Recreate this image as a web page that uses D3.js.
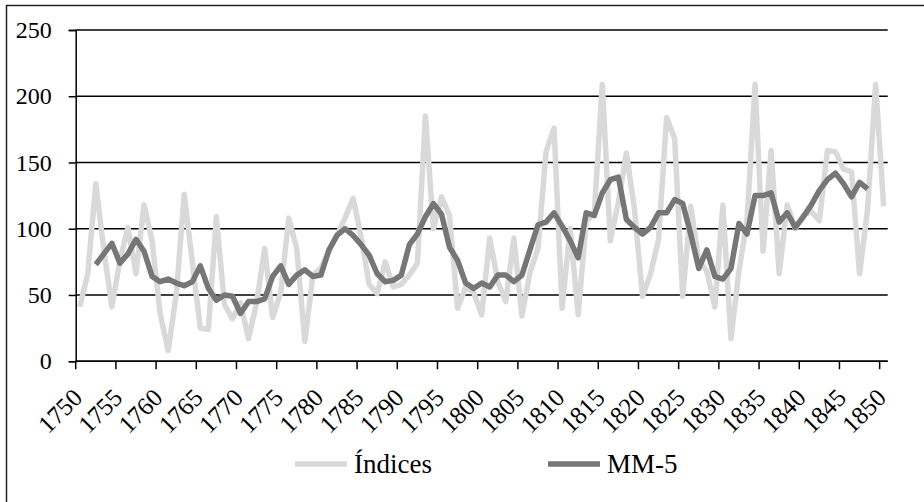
<!DOCTYPE html>
<meta charset="utf-8">
<script src="https://d3js.org/d3.v7.min.js"></script>
<style>
  body { margin: 0; background: #fff; }
  svg text { font-family: "Liberation Serif", Tinos, "Times New Roman", "DejaVu Serif", serif !important; fill: #000; }
</style>
<div id="chart"></div>
<script>

// years on the category axis
const years = d3.range(1750, 1851)

// annual index values, 1750-1850
const indices = [
  41, 66, 134, 84, 41, 76, 101, 66, 118, 91,
  36, 8, 50, 126, 75, 25, 24, 109, 43, 32,
  44, 17, 44, 85, 33, 52, 108, 85, 15, 65,
  70, 83, 95, 108, 123, 94, 58, 51, 75, 56,
  58, 65, 74, 185, 100, 124, 110, 40, 56, 52,
  35, 93, 60, 45, 93, 34, 67, 85, 158, 176,
  40, 100, 35, 106, 111, 209, 91, 120, 157, 115,
  49, 66, 92, 184, 168, 49, 117, 76, 68, 41,
  118, 17, 68, 106, 209, 83, 159, 66, 118, 100,
  110, 113, 106, 159, 158, 145, 143, 66, 115, 209,
  117
]

// 5-year moving average, 1752-1848 (null where it does not exist)
const mm5 = [
  null, null, 73, 81, 89, 74, 81, 92, 83, 64,
  60, 62, 59, 57, 60, 72, 55, 46, 50, 49,
  36, 45, 45, 47, 64, 72, 58, 65, 69, 64,
  65, 84, 95, 100, 95, 88, 80, 66, 60, 61,
  65, 88, 96, 109, 119, 111, 86, 76, 59, 55,
  59, 56, 65, 65, 60, 65, 84, 103, 105, 112,
  102, 91, 78, 112, 110, 127, 137, 139, 107, 101,
  96, 101, 112, 112, 122, 119, 96, 70, 84, 64,
  62, 70, 104, 96, 125, 125, 127, 105, 112, 101,
  109, 118, 129, 137, 142, 134, 124, 135, 130, null,
  null
]

const yTicks = [0, 50, 100, 150, 200, 250]
const xTicks = d3.range(1750, 1851, 5)

const width = 924, height = 502
const margin = {left: 75.7, right: 36.3, top: 30, bottom: 140.8}
const serif = '"Liberation Serif", Tinos, "Times New Roman", "DejaVu Serif", serif'

const svg = d3.select("#chart")
  .append("svg")
    .attr("width", width)
    .attr("height", height)
    .attr("font-family", serif)

// outer frame (only left and top edges are in the picture)
svg.append("path")
  .attr("d", `M6.5,${height} V5.5 H${width}`)
  .attr("fill", "none")
  .attr("stroke", "#222")
  .attr("stroke-width", 1.5)

const x = d3.scaleBand()
  .domain(years)
  .range([margin.left, width - margin.right])
  .paddingInner(0)
  .paddingOuter(0)

const y = d3.scaleLinear()
  .domain([0, 250])
  .range([height - margin.bottom, margin.top])

const cx = d => x(d) + x.bandwidth() / 2

// gridlines
svg.append("g")
  .selectAll("line")
  .data(yTicks)
  .join("line")
    .attr("x1", margin.left)
    .attr("x2", width - margin.right)
    .attr("y1", d => y(d))
    .attr("y2", d => y(d))
    .attr("stroke", "#000")
    .attr("stroke-width", 1.5)

// y axis
const yAxis = svg.append("g")
  .attr("transform", `translate(${margin.left},0)`)
  .call(d3.axisLeft(y).tickValues(yTicks).tickSize(7).tickPadding(17))
yAxis.attr("font-family", serif)
yAxis.select(".domain").attr("stroke", "#000").attr("stroke-width", 1.5)
yAxis.selectAll(".tick line").attr("stroke", "#000").attr("stroke-width", 1.5)
yAxis.selectAll("text")
  .style("font-family", serif)
  .style("font-size", "24px")
  .attr("fill", "#000")

// x axis: ticks on category boundaries every 5 years
const xAxis = svg.append("g")
  .attr("transform", `translate(0,${y(0)})`)
xAxis.append("line")
  .attr("x1", margin.left).attr("x2", width - margin.right)
  .attr("stroke", "#000").attr("stroke-width", 1.5)
xAxis.selectAll(".tk")
  .data(xTicks)
  .join("line")
    .attr("class", "tk")
    .attr("x1", d => x(d)).attr("x2", d => x(d))
    .attr("y1", 0).attr("y2", 8)
    .attr("stroke", "#000").attr("stroke-width", 1.5)
xAxis.selectAll(".lb")
  .data(xTicks)
  .join("text")
    .attr("class", "lb")
    .attr("transform", d => `translate(${cx(d) + 4},38) rotate(-45)`)
    .attr("text-anchor", "end")
    .style("font-family", serif)
    .style("font-size", "25px")
    .text(d => d)

// series
const line = d3.line()
  .defined(d => d[1] != null)
  .x(d => cx(d[0]))
  .y(d => y(d[1]))

svg.append("path")
  .datum(years.map((d, i) => [d, indices[i]]))
  .attr("fill", "none")
  .attr("stroke", "#d9d9d9")
  .attr("stroke-width", 5.5)
  .attr("stroke-linejoin", "round")
  .attr("d", line)

svg.append("path")
  .datum(years.map((d, i) => [d, mm5[i]]))
  .attr("fill", "none")
  .attr("stroke", "#767676")
  .attr("stroke-width", 5.5)
  .attr("stroke-linejoin", "round")
  .attr("d", line)

// legend
const legend = [
  {name: "Índices", color: "#d9d9d9", x: 295},
  {name: "MM-5", color: "#767676", x: 548}
]
const lg = svg.append("g").selectAll("g")
  .data(legend)
  .join("g")
    .attr("transform", d => `translate(${d.x},464)`)
lg.append("line")
  .attr("x1", 0).attr("x2", 52)
  .attr("stroke", d => d.color)
  .attr("stroke-width", 5.5)
lg.append("text")
  .attr("x", 59)
  .attr("y", 9)
  .style("font-family", serif)
  .style("font-size", "27px")
  .text(d => d.name)

</script>
